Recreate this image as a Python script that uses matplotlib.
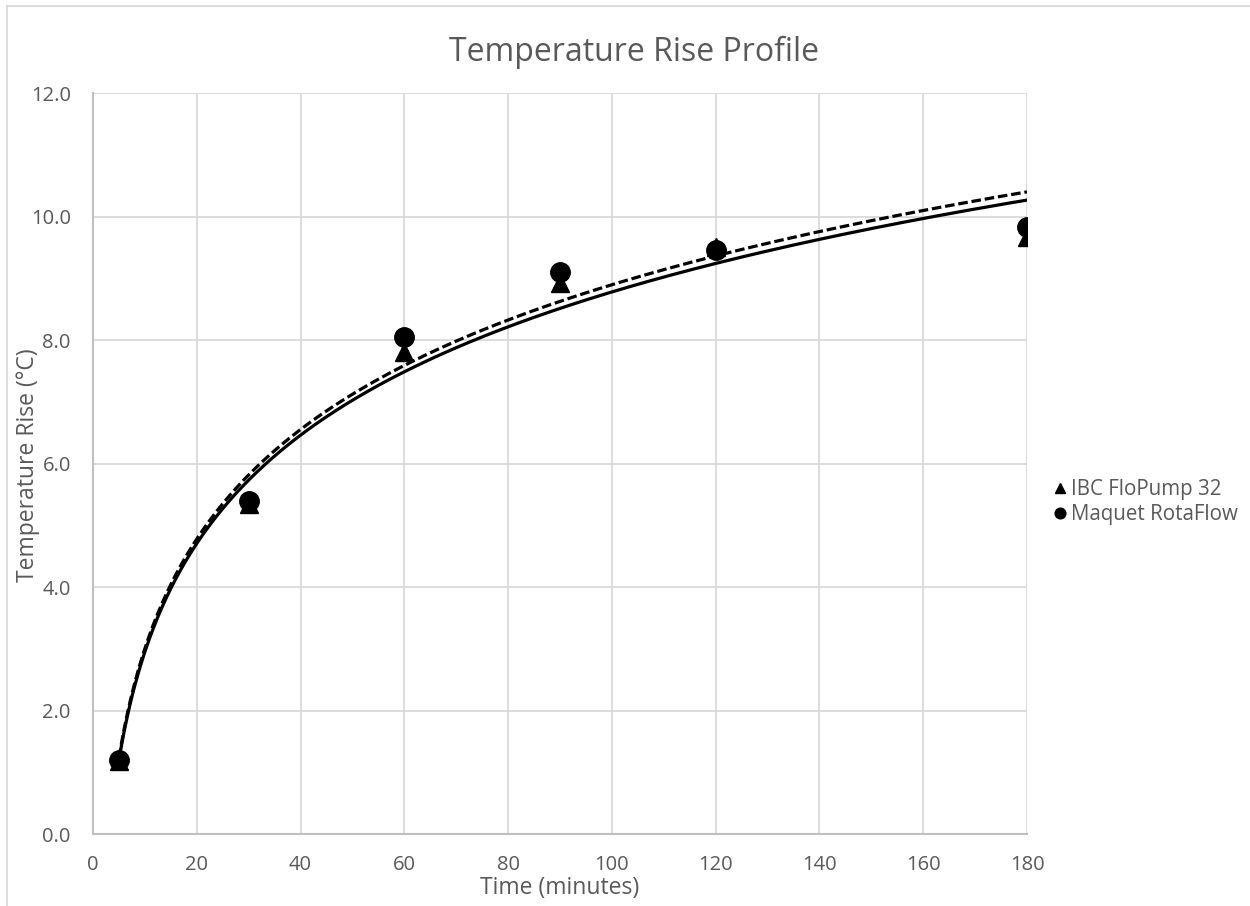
import numpy as np
import matplotlib
matplotlib.use("Agg")
import matplotlib.pyplot as plt
from matplotlib.lines import Line2D

# Data
time_min = [5, 30, 60, 90, 120, 180]
ibc_flopump = [1.18, 5.35, 7.80, 8.93, 9.50, 9.67]
maquet_rotaflow = [1.20, 5.39, 8.05, 9.10, 9.45, 9.83]
series_names = ["IBC FloPump 32", "Maquet RotaFlow"]
x_ticks = list(range(0, 181, 20))
y_ticks = [0, 2, 4, 6, 8, 10, 12]

plt.rcParams['font.family'] = ['Open Sans', 'DejaVu Sans']
gray = "#595959"

fig = plt.figure(figsize=(12.5, 9.06), dpi=100)
W, H = 1250, 906
ax = fig.add_axes([93 / W, 1 - 834 / H, (1027 - 93) / W, (834 - 93) / H])

x = np.array(time_min, dtype=float)

def log_fit(xv, yv):
    a, b = np.polyfit(np.log(xv), yv, 1)
    xs = np.linspace(xv.min(), xv.max(), 400)
    return xs, a * np.log(xs) + b

xs, ys1 = log_fit(x, np.array(ibc_flopump))
_, ys2 = log_fit(x, np.array(maquet_rotaflow))
ax.plot(xs, ys1, color="black", lw=2.3, solid_capstyle="round", zorder=3)
ax.plot(xs, ys2, color="black", lw=2.3, linestyle=(0, (3, 1.2)), zorder=3)

ax.plot(x, ibc_flopump, linestyle="none", marker="^", color="black", markersize=13, label=series_names[0], zorder=4)
ax.plot(x, maquet_rotaflow, linestyle="none", marker="o", color="black", markersize=14, label=series_names[1], zorder=5)

ax.set_xlim(0, 180)
ax.set_ylim(0, 12)
ax.set_xticks(x_ticks)
ax.set_yticks(y_ticks)
ax.set_yticklabels([f"{v:.1f}" for v in y_ticks])
ax.grid(True, color="#d9d9d9", lw=1.3)
ax.set_axisbelow(True)
for s in ["top", "right"]:
    ax.spines[s].set_visible(False)
for s in ["left", "bottom"]:
    ax.spines[s].set_color("#bfbfbf")
    ax.spines[s].set_linewidth(1.5)
ax.tick_params(length=0, labelsize=14.5, labelcolor=gray)
ax.tick_params(axis="x", pad=15)
ax.tick_params(axis="y", pad=16)

fig.text(560 / W, 1 - 888 / H, "Time (minutes)", ha="center", va="center", fontsize=16.5, color=gray)
fig.text(28 / W, 1 - 465 / H, "Temperature Rise (\u00b0C)", ha="center", va="center", rotation=90, fontsize=16.5, color=gray)
fig.text(634 / W, 1 - 52 / H, "Temperature Rise Profile", ha="center", va="center", fontsize=23, color=gray)

leg = fig.legend(loc="center left", bbox_to_anchor=(1031 / W, 1 - 502 / H), frameon=False,
                 fontsize=14.8, handletextpad=0.05, markerscale=0.55, labelspacing=0.2,
                 handlelength=1.0)
for t in leg.get_texts():
    t.set_color(gray)

# chart border
fig.add_artist(Line2D([7 / W, 1.0], [1 - 6 / H, 1 - 6 / H], color="#d9d9d9", lw=1.3, transform=fig.transFigure))
fig.add_artist(Line2D([7 / W, 7 / W], [0, 1 - 6 / H], color="#d9d9d9", lw=1.3, transform=fig.transFigure))

fig.savefig("out.png", dpi=100, facecolor="white")
